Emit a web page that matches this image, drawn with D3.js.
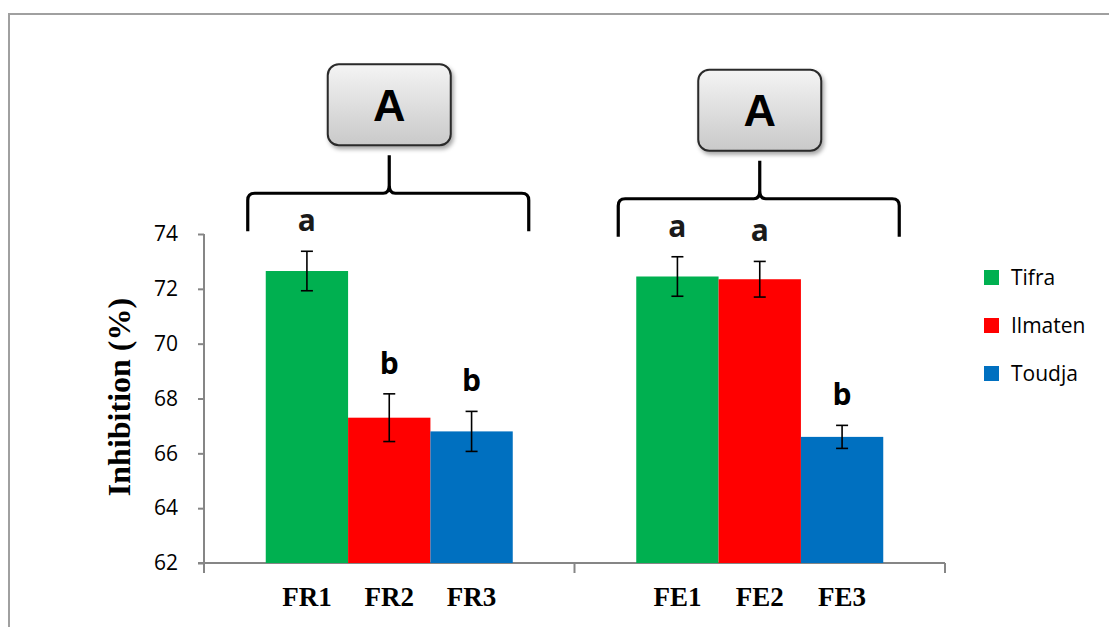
<!DOCTYPE html>
<html>
<head>
<meta charset="utf-8">
<script src="https://cdn.jsdelivr.net/npm/d3@7"></script>
<style>
  body { margin: 0; background: #fff; }
  svg { display: block; }
</style>
</head>
<body>
<div id="chart"></div>
<script>
// data
var groups = ["FR", "FE"];
var series = ["Tifra", "Ilmaten", "Toudja"];
var barLabels = [["FR1", "FR2", "FR3"], ["FE1", "FE2", "FE3"]];
var values = [[72.65, 67.3, 66.8], [72.45, 72.35, 66.6]];
var errors = [[0.72, 0.87, 0.73], [0.72, 0.65, 0.42]];
var letters = [["a", "b", "b"], ["a", "a", "b"]];
var groupLetters = ["A", "A"];
var yTicks = [62, 64, 66, 68, 70, 72, 74];
var colors = ["#00b050", "#ff0000", "#0070c0"];

var W = 1109, H = 627;
var svg = d3.select("#chart").append("svg")
    .attr("width", W)
    .attr("height", H);

var defs = svg.append("defs");
var grad = defs.append("linearGradient")
    .attr("id", "boxGrad")
    .attr("x1", 0).attr("y1", 0).attr("x2", 0).attr("y2", 1);
grad.append("stop").attr("offset", "0%").attr("stop-color", "#f4f4f4");
grad.append("stop").attr("offset", "100%").attr("stop-color", "#c9c9c9");
var shadow = defs.append("filter").attr("id", "shadow")
    .attr("x", "-20%").attr("y", "-20%").attr("width", "140%").attr("height", "140%");
shadow.append("feDropShadow")
    .attr("dx", 2).attr("dy", 3).attr("stdDeviation", 2)
    .attr("flood-color", "#000").attr("flood-opacity", 0.35);

// outer frame
svg.append("rect")
    .attr("x", 9).attr("y", 14)
    .attr("width", W + 10).attr("height", H + 10)
    .attr("fill", "none")
    .attr("stroke", "#a0a0a0")
    .attr("stroke-width", 2);

var x0 = d3.scaleBand().domain(groups).range([204, 945]).padding(0);
var x1 = d3.scaleBand().domain(series).range([0, x0.bandwidth()]).paddingInner(0).paddingOuter(0.75);
var y = d3.scaleLinear().domain([62, 74]).range([563, 234]);

var axisColor = "#868686";

// y axis
var yAxis = svg.append("g")
    .attr("transform", "translate(204,0)")
    .call(d3.axisLeft(y).tickValues(yTicks).tickSize(6).tickPadding(20).tickFormat(d3.format("d")));
yAxis.select(".domain").remove();
yAxis.selectAll(".tick line").attr("stroke", axisColor).attr("stroke-width", 2);
yAxis.selectAll(".tick text")
    .style("font-family", "'Open Sans', Lato, sans-serif")
    .style("font-size", "21px")
    .attr("fill", "#000");
svg.append("line")
    .attr("x1", 204).attr("x2", 204)
    .attr("y1", y(74)).attr("y2", 573)
    .attr("stroke", axisColor).attr("stroke-width", 2);

// x axis line and group boundary ticks
svg.append("line")
    .attr("x1", 198).attr("x2", x0.range()[1])
    .attr("y1", y(62)).attr("y2", y(62))
    .attr("stroke", axisColor).attr("stroke-width", 2);
var bounds = groups.map(function(g) { return x0(g); }).concat([x0.range()[1]]);
svg.selectAll(".xtick")
    .data(bounds)
  .enter().append("line")
    .attr("class", "xtick")
    .attr("x1", function(d) { return d; })
    .attr("x2", function(d) { return d; })
    .attr("y1", y(62)).attr("y2", y(62) + 10)
    .attr("stroke", axisColor).attr("stroke-width", 2);

// bars
var barData = [];
groups.forEach(function(g, gi) {
  series.forEach(function(s, si) {
    barData.push({
      g: g, s: s, si: si,
      value: values[gi][si],
      err: errors[gi][si],
      label: barLabels[gi][si],
      letter: letters[gi][si]
    });
  });
});

svg.selectAll(".bar")
    .data(barData)
  .enter().append("rect")
    .attr("class", "bar")
    .attr("x", function(d) { return x0(d.g) + x1(d.s); })
    .attr("width", x1.bandwidth())
    .attr("y", function(d) { return y(d.value); })
    .attr("height", function(d) { return y(62) - y(d.value); })
    .attr("fill", function(d) { return colors[d.si]; });

// error bars
var cx = function(d) { return x0(d.g) + x1(d.s) + x1.bandwidth() / 2; };
var eb = svg.selectAll(".err")
    .data(barData)
  .enter().append("g")
    .attr("class", "err")
    .attr("stroke", "#000")
    .attr("stroke-width", 1.6);
eb.append("line")
    .attr("x1", cx).attr("x2", cx)
    .attr("y1", function(d) { return y(d.value + d.err); })
    .attr("y2", function(d) { return y(d.value - d.err); });
eb.append("line")
    .attr("x1", function(d) { return cx(d) - 6; })
    .attr("x2", function(d) { return cx(d) + 6; })
    .attr("y1", function(d) { return y(d.value + d.err); })
    .attr("y2", function(d) { return y(d.value + d.err); });
eb.append("line")
    .attr("x1", function(d) { return cx(d) - 6; })
    .attr("x2", function(d) { return cx(d) + 6; })
    .attr("y1", function(d) { return y(d.value - d.err); })
    .attr("y2", function(d) { return y(d.value - d.err); });

// significance letters
svg.selectAll(".letter")
    .data(barData)
  .enter().append("text")
    .attr("class", "letter")
    .attr("x", cx)
    .attr("y", function(d) { return y(d.value + d.err) - 20; })
    .attr("text-anchor", "middle")
    .style("font-family", "'Open Sans', 'Liberation Sans', sans-serif")
    .style("font-weight", "bold")
    .style("font-size", "30px")
    .attr("fill", function(d) { return d.letter == "a" ? "#1a1a1a" : "#000"; })
    .text(function(d) { return d.letter; });

// x labels
svg.selectAll(".xlabel")
    .data(barData)
  .enter().append("text")
    .attr("class", "xlabel")
    .attr("x", cx)
    .attr("y", 606)
    .attr("text-anchor", "middle")
    .style("font-family", "'Liberation Serif', 'Times New Roman', serif")
    .style("font-weight", "bold")
    .style("font-size", "27px")
    .text(function(d) { return d.label; });

// y title
svg.append("text")
    .attr("transform", "translate(130,397) rotate(-90)")
    .attr("text-anchor", "middle")
    .style("font-family", "'Liberation Serif', 'Times New Roman', serif")
    .style("font-weight", "bold")
    .style("font-size", "32px")
    .text("Inhibition (%)");

// braces + boxes for each group
groups.forEach(function(g, gi) {
  var left = x0(g) + x1(series[0]) - 18;
  var right = x0(g) + x1(series[2]) + x1.bandwidth() + 16;
  var mid = (x0(g) + x1(series[0]) + x0(g) + x1(series[2]) + x1.bandwidth()) / 2;
  var topVal = d3.max(values[gi].map(function(v, i) { return v + errors[gi][i]; }));
  var base = y(topVal) - 58;
  var bottom = base + 38;
  var nubTop = base - 38;
  var r = 7;
  var p = d3.path();
  p.moveTo(left, bottom);
  p.lineTo(left, base + r);
  p.quadraticCurveTo(left, base, left + r, base);
  p.lineTo(mid - 6, base);
  p.quadraticCurveTo(mid, base, mid, base - 8);
  p.lineTo(mid, nubTop);
  p.moveTo(mid, base - 8);
  p.quadraticCurveTo(mid, base, mid + 6, base);
  p.lineTo(right - r, base);
  p.quadraticCurveTo(right, base, right, base + r);
  p.lineTo(right, bottom);
  svg.append("path")
      .attr("d", p.toString())
      .attr("fill", "none")
      .attr("stroke", "#000")
      .attr("stroke-width", 3.2)
      .attr("stroke-linejoin", "round");

  var bw = 123, bh = 81;
  var bx = mid - bw / 2, by = nubTop - 10 - bh;
  svg.append("rect")
      .attr("x", bx).attr("y", by)
      .attr("width", bw).attr("height", bh)
      .attr("rx", 11).attr("ry", 11)
      .attr("fill", "url(#boxGrad)")
      .attr("stroke", "#2a2a2a")
      .attr("stroke-width", 2)
      .attr("filter", "url(#shadow)");
  svg.append("text")
      .attr("x", mid)
      .attr("y", by + bh / 2 + 16)
      .attr("text-anchor", "middle")
      .style("font-family", "'Liberation Sans', Arial, sans-serif")
      .style("font-weight", "bold")
      .style("font-size", "45px")
      .text(groupLetters[gi]);
});

// legend
var legend = svg.selectAll(".legend")
    .data(series)
  .enter().append("g")
    .attr("class", "legend")
    .attr("transform", function(d, i) { return "translate(984," + (270 + i * 48) + ")"; });
legend.append("rect")
    .attr("width", 15).attr("height", 15)
    .attr("fill", function(d, i) { return colors[i]; });
legend.append("text")
    .attr("x", 27).attr("y", 8)
    .attr("dy", "0.35em")
    .style("font-family", "'Open Sans', Lato, sans-serif")
    .style("font-size", "21px")
    .text(function(d) { return d; });
</script>
</body>
</html>
